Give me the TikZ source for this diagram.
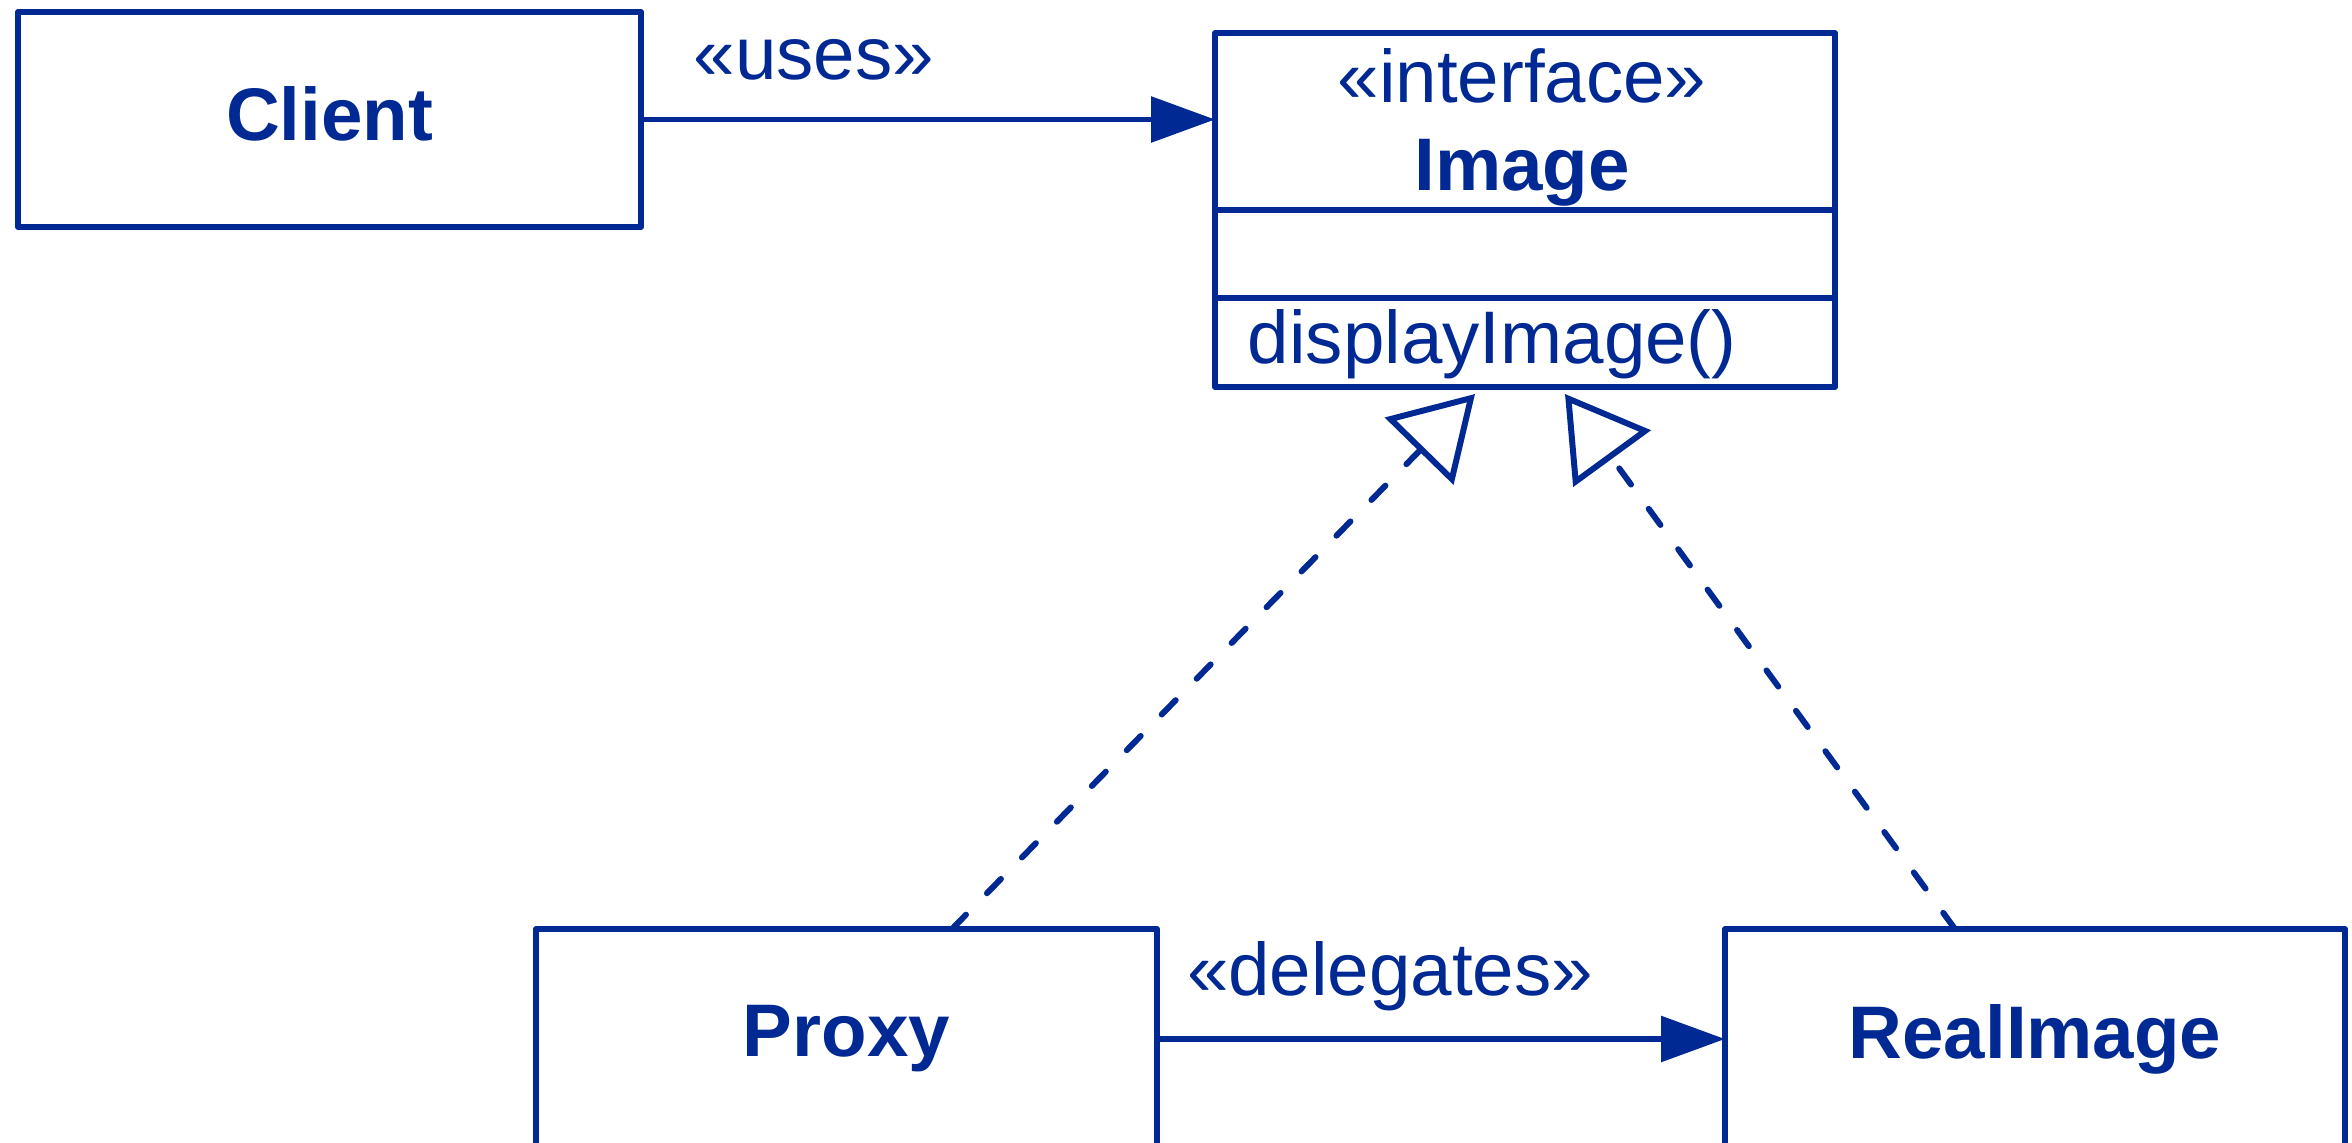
\documentclass[tikz,border=0pt]{standalone}
\usepackage{fontspec}
\setmainfont{Liberation Sans}
\usetikzlibrary{arrows.meta,positioning}
\definecolor{umlblue}{RGB}{0,41,147}
\begin{document}
\begin{tikzpicture}[color=umlblue, line width=1.7pt,
		font=\fontsize{21.2}{25}\selectfont,
		classbox/.style={draw, rectangle, inner sep=0pt, outer sep=0pt, line join=round,
			font=\fontsize{21.2}{25}\selectfont\bfseries},
		compartment/.style={classbox, minimum width=6.2cm},
		uses/.style={-{Triangle[length=0.64cm,width=0.45cm]}},
		realize/.style={dash pattern=on 0.2cm off 0.3cm, line cap=round,
			-{Triangle[open,length=0.8cm,width=0.95cm]}}
		]
	\useasboundingbox (0,0) rectangle (23.52,-11.43);

	% classes
	\node [classbox, minimum width=6.23cm, minimum height=2.15cm, text depth=0.11cm] (client) at (3.295,-1.195) {Client};
	\node [compartment, minimum height=1.77cm] (imghead) at (15.25,-1.215) {};
	\node [compartment, minimum height=0.88cm, below=0pt of imghead] (imgattr) {};
	\node [compartment, minimum height=0.89cm, below=0pt of imgattr] (imgops) {};
	\node [anchor=base] (stereo) at (15.22,-1.02) {«interface»};
	\node [anchor=base, font=\fontsize{21.2}{25}\selectfont\bfseries] (imgname) at (15.22,-1.90) {Image};
	\node [anchor=base west, inner sep=0pt] (imgop) at (12.45,-3.63) {displayImage()};
	\node [classbox, minimum width=6.21cm, minimum height=2.2cm] (proxy) at (8.465,-10.39) {Proxy};
	\node [classbox, minimum width=6.2cm, minimum height=2.2cm] (real) at (20.35,-10.39) {RealImage};

	% associations
	\draw [uses] (client.east) -- (client.east -| imghead.west);
	\node [anchor=base] (useslbl) at (8.14,-0.79) {«uses»};
	\draw [uses] (proxy.east) -- (real.west);
	\node [anchor=base] (delegateslbl) at (13.9,-9.95) {«delegates»};

	% realizations
	\draw [realize] ([xshift=1.055cm]proxy.north) -- ([xshift=-0.5cm,yshift=-0.07cm]imgops.south);
	\draw [realize] ([xshift=-0.8cm]real.north) -- ([xshift=0.4cm,yshift=-0.07cm]imgops.south);
\end{tikzpicture}
\end{document}
